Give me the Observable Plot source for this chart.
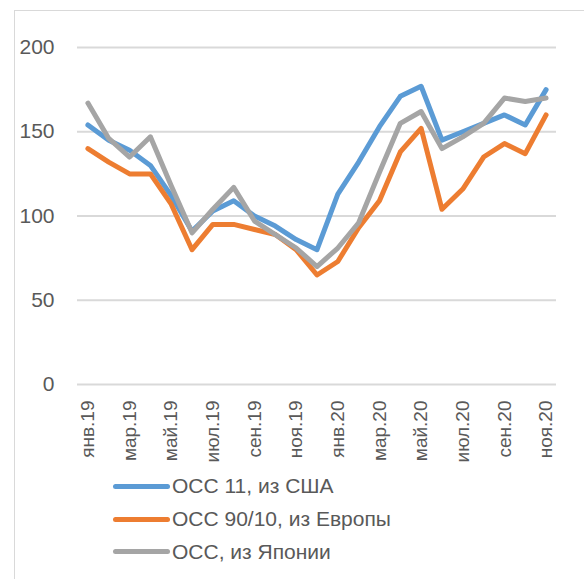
<!DOCTYPE html>
<html>
<head>
<meta charset="utf-8">
<script src="https://cdn.jsdelivr.net/npm/d3@7"></script>
<script src="https://cdn.jsdelivr.net/npm/@observablehq/plot@0.6"></script>
<style>
  html, body { margin: 0; padding: 0; background: #fff; width: 584px; height: 579px; overflow: hidden; }
  body { position: relative; font-family: "Liberation Sans", Arial, sans-serif; }
  #frame { position: absolute; left: 14px; top: 10px; width: 600px; height: 600px; border-left: 1.5px solid #d9d9d9; border-top: 1.5px solid #d9d9d9; }
  #chart { position: absolute; left: 0; top: 0; }
  #legend { position: absolute; left: 113px; top: 470px; }
  .item { display: flex; align-items: center; height: 32.7px; }
  .swatch { width: 57px; height: 5px; border-radius: 3px; margin-right: 2px; }
  .label { font-size: 21px; color: #595959; white-space: nowrap; }
</style>
</head>
<body>
<div id="frame"></div>
<div id="chart"></div>
<div id="legend"></div>
<script>
const months = ["янв.19","фев.19","мар.19","апр.19","май.19","июн.19","июл.19","авг.19","сен.19","окт.19","ноя.19","дек.19",
                "янв.20","фев.20","мар.20","апр.20","май.20","июн.20","июл.20","авг.20","сен.20","окт.20","ноя.20"];
const tickLabels = ["янв.19","мар.19","май.19","июл.19","сен.19","ноя.19","янв.20","мар.20","май.20","июл.20","сен.20","ноя.20"];
const yTicks = [0, 50, 100, 150, 200];
const seriesNames = ["ОСС 11, из США", "ОСС 90/10, из Европы", "ОСС, из Японии"];
const seriesColors = ["#5b9bd5", "#ed7d31", "#a5a5a5"];
const usa    = [154, 145, 139, 130, 112, 91, 103, 109, 100, 94, 86, 80, 113, 132, 153, 171, 177, 145, 150, 155, 160, 154, 175];
const europe = [140, 132, 125, 125, 107, 80, 95, 95, 92, 89, 80, 65, 73, 93, 109, 138, 152, 104, 116, 135, 143, 137, 160];
const japan  = [167, 146, 135, 147, 118, 90, 104, 117, 97, 89, 81, 70, 81, 96, 126, 155, 162, 140, 147, 155, 170, 168, 170];

const seriesValues = [usa, europe, japan];
const data = [];
seriesNames.forEach((name, s) => {
  months.forEach((m, i) => data.push({series: name, month: m, value: seriesValues[s][i]}));
});

const chart = Plot.plot({
  width: 584,
  height: 470,
  marginLeft: 77,
  marginRight: 28,
  marginTop: 47,
  marginBottom: 86,
  style: { fontFamily: '"Liberation Sans", Arial, sans-serif', background: "transparent", color: "#595959" },
  x: { type: "point", domain: months, padding: 0.5, round: false, label: null },
  y: { domain: [0, 200], label: null },
  color: { domain: seriesNames, range: seriesColors },
  marks: [
    Plot.gridY(yTicks, { stroke: "#d9d9d9", strokeOpacity: 1, strokeWidth: 1.8 }),
    Plot.axisY(yTicks, { tickSize: 0, tickPadding: 23, fontSize: 21, fill: "#595959", label: null }),
    Plot.axisX(tickLabels, { tickSize: 0, tickPadding: 16, tickRotate: -90, fontSize: 19, fill: "#595959", label: null }),
    Plot.line(data, { x: "month", y: "value", z: "series", stroke: "series", strokeWidth: 5, strokeLinejoin: "round", strokeLinecap: "round" })
  ]
});
document.getElementById("chart").appendChild(chart);

const legend = document.getElementById("legend");
seriesNames.forEach((name, i) => {
  const item = document.createElement("div");
  item.className = "item";
  const sw = document.createElement("div");
  sw.className = "swatch";
  sw.style.background = seriesColors[i];
  const lb = document.createElement("span");
  lb.className = "label";
  lb.textContent = name;
  item.appendChild(sw);
  item.appendChild(lb);
  legend.appendChild(item);
});
</script>
</body>
</html>
